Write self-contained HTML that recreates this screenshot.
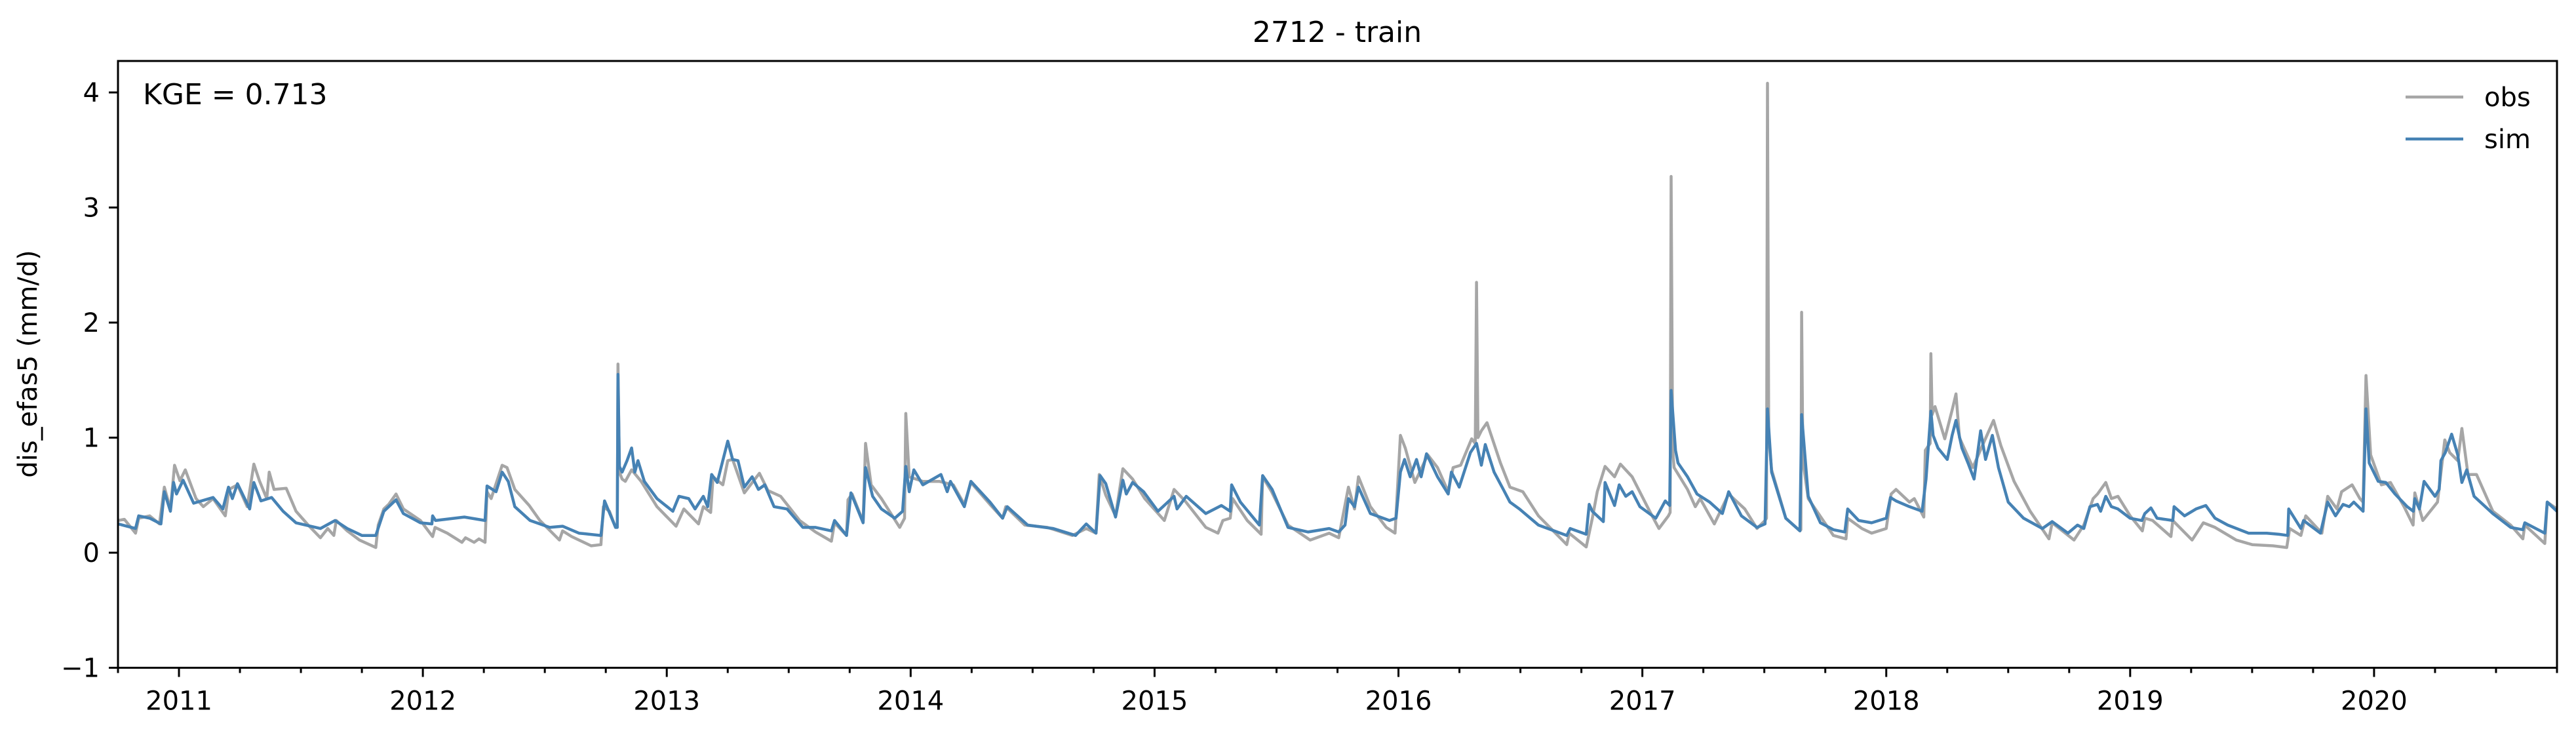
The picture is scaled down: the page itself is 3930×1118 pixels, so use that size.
<!DOCTYPE html>
<html><head><meta charset="utf-8"><style>
html,body{margin:0;padding:0;background:#fff;}
svg{display:block;font-family:"DejaVu Sans","Liberation Sans",sans-serif;}
</style></head><body>
<svg id="chart" width="3930" height="1118" viewBox="0 0 3930 1118" xmlns="http://www.w3.org/2000/svg">
<rect x="0" y="0" width="3930" height="1118" fill="#fff"/>
<defs><clipPath id="plotclip"><rect x="180" y="93" width="3721" height="925"/></clipPath></defs>
<text x="2040" y="64" font-size="44" text-anchor="middle" fill="#000">2712 - train</text>
<text x="0" y="0" font-size="40" text-anchor="middle" fill="#000" transform="translate(56,555) rotate(-90)">dis_efas5 (mm/d)</text>
<g id="series" clip-path="url(#plotclip)"></g>
<g id="axes"></g>
<text x="218" y="159" font-size="44" fill="#000">KGE = 0.713</text>
<g>
<line x1="3670" y1="148" x2="3758" y2="148" stroke="#a6a6a6" stroke-width="4.5"/>
<text x="3790" y="162" font-size="40" fill="#000">obs</text>
<line x1="3670" y1="212" x2="3758" y2="212" stroke="#4682b4" stroke-width="4.5"/>
<text x="3790" y="226" font-size="40" fill="#000">sim</text>
</g>
</svg>
<script>
const yTicks = [-1, 0, 1, 2, 3, 4];
const yTickLabels = ["\u22121", "0", "1", "2", "3", "4"];
const xYears = [2011, 2012, 2013, 2014, 2015, 2016, 2017, 2018, 2019, 2020];
const xYearLabels = ["2011","2012","2013","2014","2015","2016","2017","2018","2019","2020"];
const obsT = [2010.750,2010.776,2010.822,2010.835,2010.880,2010.920,2010.940,2010.965,2010.982,2011.004,2011.026,2011.070,2011.100,2011.140,2011.190,2011.205,2011.240,2011.280,2011.307,2011.330,2011.360,2011.370,2011.390,2011.440,2011.480,2011.530,2011.580,2011.610,2011.635,2011.645,2011.690,2011.740,2011.807,2011.817,2011.840,2011.860,2011.890,2011.920,2011.990,2012.040,2012.050,2012.100,2012.160,2012.175,2012.210,2012.230,2012.255,2012.263,2012.280,2012.325,2012.345,2012.377,2012.436,2012.480,2012.560,2012.573,2012.610,2012.690,2012.730,2012.740,2012.765,2012.790,2012.797,2012.800,2012.806,2012.817,2012.830,2012.856,2012.895,2012.960,2013.038,2013.070,2013.130,2013.150,2013.180,2013.190,2013.230,2013.250,2013.270,2013.318,2013.380,2013.415,2013.467,2013.545,2013.610,2013.675,2013.688,2013.737,2013.743,2013.760,2013.805,2013.815,2013.838,2013.880,2013.955,2013.975,2013.980,2013.994,2014.050,2014.117,2014.175,2014.220,2014.247,2014.325,2014.377,2014.390,2014.468,2014.560,2014.663,2014.720,2014.760,2014.773,2014.800,2014.840,2014.870,2014.910,2014.960,2015.040,2015.080,2015.125,2015.210,2015.260,2015.280,2015.310,2015.320,2015.380,2015.437,2015.443,2015.480,2015.547,2015.638,2015.716,2015.755,2015.795,2015.820,2015.836,2015.885,2015.950,2015.986,2016.008,2016.028,2016.067,2016.120,2016.160,2016.204,2016.224,2016.255,2016.300,2016.315,2016.320,2016.326,2016.340,2016.363,2016.418,2016.457,2016.510,2016.574,2016.690,2016.700,2016.770,2016.795,2016.815,2016.847,2016.886,2016.910,2016.958,2017.030,2017.068,2017.107,2017.114,2017.118,2017.124,2017.130,2017.185,2017.217,2017.237,2017.295,2017.354,2017.420,2017.470,2017.503,2017.509,2017.513,2017.518,2017.530,2017.588,2017.646,2017.650,2017.653,2017.658,2017.680,2017.783,2017.835,2017.842,2017.900,2017.940,2018.000,2018.020,2018.040,2018.095,2018.115,2018.154,2018.160,2018.180,2018.183,2018.188,2018.200,2018.240,2018.270,2018.286,2018.300,2018.355,2018.394,2018.440,2018.470,2018.524,2018.590,2018.667,2018.680,2018.770,2018.810,2018.848,2018.866,2018.900,2018.923,2018.950,2019.000,2019.050,2019.060,2019.092,2019.167,2019.175,2019.254,2019.300,2019.348,2019.435,2019.500,2019.586,2019.642,2019.654,2019.700,2019.720,2019.786,2019.810,2019.848,2019.867,2019.910,2019.942,2019.955,2019.967,2019.986,2020.030,2020.067,2020.123,2020.160,2020.167,2020.200,2020.260,2020.290,2020.310,2020.343,2020.360,2020.385,2020.420,2020.487,2020.560,2020.610,2020.618,2020.700,2020.710,2020.750];
const obsV = [.28,.29,.17,.30,.32,.25,.57,.38,.76,.625,.72,.47,.40,.47,.32,.55,.59,.40,.77,.625,.47,.70,.55,.56,.36,.24,.13,.21,.15,.28,.19,.11,.045,.24,.38,.42,.51,.38,.28,.14,.22,.17,.09,.13,.09,.12,.09,.53,.47,.76,.74,.55,.41,.28,.11,.19,.14,.06,.07,.40,.36,.22,.22,1.64,.70,.64,.62,.72,.62,.40,.23,.38,.25,.40,.35,.66,.59,.80,.81,.52,.69,.54,.49,.28,.18,.10,.26,.15,.46,.51,.27,.95,.59,.47,.22,.30,1.21,.66,.62,.62,.59,.42,.61,.42,.30,.40,.24,.22,.15,.21,.17,.68,.50,.32,.73,.64,.47,.28,.55,.45,.22,.17,.28,.30,.47,.28,.16,.66,.53,.24,.11,.17,.13,.57,.38,.66,.40,.22,.17,1.02,.91,.61,.85,.74,.53,.74,.76,.99,.95,2.35,1.0,1.06,1.13,.78,.57,.53,.32,.07,.17,.05,.30,.53,.75,.66,.77,.66,.36,.21,.32,.35,3.27,.90,.74,.55,.40,.47,.25,.51,.38,.21,.28,.30,4.08,1.0,.72,.30,.19,.20,2.09,.80,.47,.15,.12,.30,.21,.17,.21,.51,.55,.44,.47,.31,.89,.95,1.73,1.2,1.27,.99,1.24,1.38,1.00,.74,.93,1.15,.93,.62,.36,.12,.26,.11,.24,.47,.51,.61,.47,.49,.32,.19,.30,.28,.14,.28,.11,.26,.22,.11,.07,.06,.045,.21,.15,.32,.17,.49,.38,.53,.59,.47,.44,1.54,.85,.59,.61,.40,.24,.52,.28,.44,.98,.87,.80,1.08,.68,.68,.36,.24,.12,.24,.08,.44,.38];
const simT = [2010.750,2010.822,2010.835,2010.880,2010.926,2010.940,2010.965,2010.978,2010.990,2011.017,2011.060,2011.140,2011.180,2011.203,2011.219,2011.240,2011.290,2011.307,2011.336,2011.380,2011.427,2011.480,2011.580,2011.640,2011.690,2011.750,2011.807,2011.840,2011.890,2011.920,2011.990,2012.037,2012.040,2012.052,2012.170,2012.255,2012.263,2012.300,2012.325,2012.350,2012.377,2012.440,2012.520,2012.573,2012.640,2012.730,2012.745,2012.790,2012.797,2012.800,2012.806,2012.817,2012.837,2012.856,2012.869,2012.882,2012.908,2012.960,2013.025,2013.050,2013.090,2013.116,2013.150,2013.168,2013.184,2013.207,2013.250,2013.270,2013.292,2013.318,2013.350,2013.376,2013.402,2013.440,2013.493,2013.558,2013.610,2013.675,2013.688,2013.737,2013.755,2013.805,2013.815,2013.844,2013.880,2013.935,2013.967,2013.980,2013.994,2014.013,2014.050,2014.124,2014.150,2014.163,2014.220,2014.247,2014.325,2014.377,2014.396,2014.480,2014.585,2014.676,2014.720,2014.760,2014.777,2014.800,2014.840,2014.870,2014.884,2014.910,2014.955,2015.014,2015.080,2015.092,2015.130,2015.210,2015.274,2015.310,2015.316,2015.352,2015.430,2015.443,2015.482,2015.547,2015.630,2015.716,2015.755,2015.781,2015.795,2015.820,2015.836,2015.885,2015.963,2015.990,2016.008,2016.025,2016.048,2016.074,2016.093,2016.115,2016.160,2016.204,2016.217,2016.249,2016.295,2016.320,2016.340,2016.356,2016.392,2016.430,2016.457,2016.496,2016.574,2016.690,2016.704,2016.770,2016.782,2016.795,2016.840,2016.847,2016.886,2016.905,2016.932,2016.958,2016.990,2017.055,2017.094,2017.112,2017.118,2017.136,2017.146,2017.185,2017.224,2017.276,2017.328,2017.354,2017.406,2017.470,2017.503,2017.513,2017.530,2017.588,2017.646,2017.653,2017.680,2017.730,2017.783,2017.830,2017.842,2017.887,2017.940,2018.000,2018.017,2018.040,2018.095,2018.147,2018.163,2018.183,2018.192,2018.212,2018.250,2018.270,2018.286,2018.310,2018.335,2018.360,2018.387,2018.407,2018.435,2018.460,2018.500,2018.563,2018.640,2018.680,2018.745,2018.784,2018.810,2018.835,2018.866,2018.879,2018.900,2018.923,2018.950,2019.000,2019.048,2019.060,2019.085,2019.110,2019.175,2019.180,2019.223,2019.270,2019.310,2019.348,2019.400,2019.485,2019.560,2019.610,2019.646,2019.650,2019.700,2019.711,2019.780,2019.810,2019.842,2019.873,2019.898,2019.917,2019.955,2019.967,2019.980,2020.017,2020.048,2020.086,2020.136,2020.161,2020.167,2020.186,2020.205,2020.250,2020.267,2020.274,2020.292,2020.318,2020.343,2020.360,2020.380,2020.410,2020.487,2020.560,2020.610,2020.618,2020.700,2020.710,2020.750];
const simV = [.25,.21,.32,.30,.25,.53,.36,.61,.51,.63,.43,.48,.38,.57,.47,.60,.38,.61,.45,.48,.36,.26,.21,.28,.21,.15,.15,.36,.46,.34,.26,.25,.32,.28,.31,.28,.58,.53,.70,.62,.40,.28,.22,.23,.17,.15,.45,.22,.22,1.55,.75,.70,.80,.91,.70,.80,.62,.47,.36,.49,.47,.38,.49,.40,.68,.61,.97,.81,.80,.57,.66,.55,.59,.40,.38,.22,.22,.19,.28,.15,.52,.26,.74,.49,.38,.30,.36,.75,.53,.72,.59,.68,.53,.62,.40,.62,.44,.30,.40,.24,.21,.15,.25,.17,.67,.60,.31,.63,.51,.61,.53,.36,.49,.38,.49,.34,.41,.36,.59,.44,.24,.67,.55,.22,.18,.21,.18,.24,.47,.40,.57,.34,.28,.30,.70,.81,.66,.81,.66,.86,.66,.51,.70,.57,.87,.95,.76,.94,.70,.55,.44,.38,.24,.15,.21,.16,.42,.36,.27,.61,.41,.59,.49,.53,.40,.30,.45,.41,1.41,.89,.78,.66,.51,.44,.34,.53,.32,.22,.25,1.25,.70,.30,.19,1.20,.49,.26,.20,.18,.38,.28,.26,.30,.48,.45,.40,.36,.64,1.23,1.02,.91,.81,1.02,1.15,.91,.78,.64,1.06,.81,1.02,.74,.44,.30,.21,.27,.17,.24,.21,.40,.42,.36,.49,.40,.38,.30,.28,.34,.39,.30,.28,.40,.32,.38,.41,.30,.24,.17,.17,.16,.15,.38,.21,.28,.17,.44,.32,.42,.40,.44,.36,1.25,.78,.62,.61,.51,.40,.36,.47,.38,.62,.49,.55,.80,.87,1.03,.85,.61,.72,.49,.34,.22,.20,.26,.17,.44,.36];

const NS = "http://www.w3.org/2000/svg";
const X0 = 180, X1 = 3901, T0 = 2010.75, T1 = 2020.75;
const Y0 = 843, YU = 175.5;
function xScale(t){ return X0 + (t - T0) / (T1 - T0) * (X1 - X0); }
function yScale(v){ return Y0 - v * YU; }
function mk(tag, attrs){ const e = document.createElementNS(NS, tag); for (const k in attrs) e.setAttribute(k, attrs[k]); return e; }

const series = document.getElementById('series');
function drawLine(T, V, color, name){
  let d = '';
  for (let i = 0; i < T.length; i++) d += (i ? 'L' : 'M') + xScale(T[i]).toFixed(1) + ' ' + yScale(V[i]).toFixed(1);
  const p = mk('path', {d: d, fill: 'none', stroke: color, 'stroke-width': 4.5, 'stroke-linejoin': 'round'});
  
  
  series.appendChild(p);
}
drawLine(obsT, obsV, '#a6a6a6', 'obs-line');
drawLine(simT, simV, '#4682b4', 'sim-line');

const axes = document.getElementById('axes');
const frame = mk('rect', {x: X0, y: 93, width: X1 - X0, height: yScale(-1) - 93, fill: 'none', stroke: '#000', 'stroke-width': 3});


axes.appendChild(frame);

yTicks.forEach((v, i) => {
  const y = yScale(v);
  const tk = mk('line', {x1: X0 - 14, y1: y, x2: X0, y2: y, stroke: '#000', 'stroke-width': 3});
  
  
  axes.appendChild(tk);
  const lb = mk('text', {x: X0 - 28, y: y + 14, 'font-size': 40, 'text-anchor': 'end', fill: '#000'});
  lb.textContent = yTickLabels[i];
  
  
  axes.appendChild(lb);
});

const yb = yScale(-1);
for (let q = 0; q <= 40; q++) {
  const t = T0 + q * 0.25;
  const x = xScale(t);
  const major = Math.abs(t - Math.round(t)) < 1e-6;
  const tk = mk('line', {x1: x, y1: yb, x2: x, y2: yb + (major ? 14 : 8), stroke: '#000', 'stroke-width': 3});
  
  
  axes.appendChild(tk);
}
xYears.forEach((yr, i) => {
  const lb = mk('text', {x: xScale(yr), y: yb + 64, 'font-size': 40, 'text-anchor': 'middle', fill: '#000'});
  lb.textContent = xYearLabels[i];
  
  
  axes.appendChild(lb);
});
</script>
</body></html>
